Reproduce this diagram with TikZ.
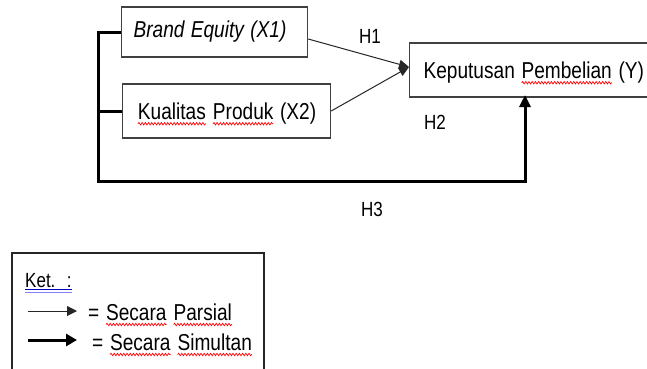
\documentclass[tikz,border=0pt]{standalone}
\usepackage{fontspec}
\setmainfont{Liberation Sans}[FakeStretch=0.83,WordSpace=1.2]
\usetikzlibrary{arrows.meta,decorations.pathmorphing}
\newcommand\rwave[1]{\tikz[baseline=(w.base)]{\node[inner sep=0pt,outer sep=0pt] (w) {#1};
  \draw[red, line width=0.7pt, decorate, decoration={snake, amplitude=1.2pt, segment length=3.2pt}] ([yshift=-4.5pt]w.base west) -- ([yshift=-4.5pt]w.base east);}}
\begin{document}
\begin{tikzpicture}[x=1pt,y=-1pt,
  every node/.style={font=\fontsize{23}{27}\selectfont},
  box/.style={draw=black!75, line width=1.2pt, minimum height=50pt, anchor=west, align=flush left, inner ysep=2pt},
  hlabel/.style={font=\fontsize{20.5}{24}\selectfont, inner sep=0pt},
  partial/.style={draw=black!85, line width=1pt, -{Triangle[length=10pt,width=9pt]}},
  simul/.style={draw=black, line width=3pt},
  simularrow/.style={simul, -{Triangle[length=12pt,width=11pt]}}]
\useasboundingbox (0,0) rectangle (647,368);
\fill[white] (0,0) rectangle (647,368);

% boxes
\node[box, text width=162pt, inner xsep=12pt] (b1) at (121,32) {\itshape Brand Equity (X1)};
\node[box, text width=178pt, inner xsep=15pt] (b2) at (122,111) {\mbox{\rwave{Kualitas} \rwave{Produk} (X2)}};
\node[box, text width=228pt, inner xsep=14pt] (y) at (409,70) {\mbox{Keputusan \rwave{Pembelian} (Y)}};

% labels
\node[hlabel] (h1) at (370,36) {H1};
\node[hlabel] (h2) at (435,122) {H2};
\node[hlabel] (h3) at (372,209) {H3};

% partial arrows
\coordinate (tip) at (409,67);
\draw[partial] ([yshift=-7pt]b1.east) -- (tip);
\draw[partial] (b2.east) -- (tip);

% simultaneous
\coordinate (corner) at (98,181);
\coordinate (ytarget) at (525,95);
\draw[simularrow] (b1.west) -| (corner) -| (ytarget);
\draw[simul] (b2.west) -- (b2.west -| corner);

% legend
\node[draw=black!85, line width=2pt, minimum width=252pt, minimum height=140pt, anchor=north west, inner sep=0pt] (legend) at (11,252) {};
\node[anchor=base west, inner sep=0pt, font=\fontsize{20.5}{24}\selectfont] (ket) at (25,287) {Ket.\ \ :};
\draw[blue!75!black, line width=0.8pt] ([yshift=-2.5pt]ket.base west) -- ([yshift=-2.5pt]ket.base east);
\draw[blue!50, line width=0.8pt] ([yshift=-5.5pt]ket.base west) -- ([yshift=-5.5pt]ket.base east);
\coordinate (l1s) at (28,311);
\coordinate (l1e) at (77,311);
\coordinate (l2s) at (28,340);
\coordinate (l2e) at (77,340);
\draw[draw=black!85, line width=1pt, -{Triangle[length=10pt,width=10pt]}] (l1s) -- (l1e);
\draw[simul, -{Triangle[length=11pt,width=12pt]}] (l2s) -- (l2e);
\node[anchor=base west, inner sep=0pt] (t1) at (88,320) {= \rwave{Secara} \rwave{Parsial}};
\node[anchor=base west, inner sep=0pt] (t2) at (92,350) {= \rwave{Secara} \rwave{Simultan}};
\end{tikzpicture}
\end{document}
